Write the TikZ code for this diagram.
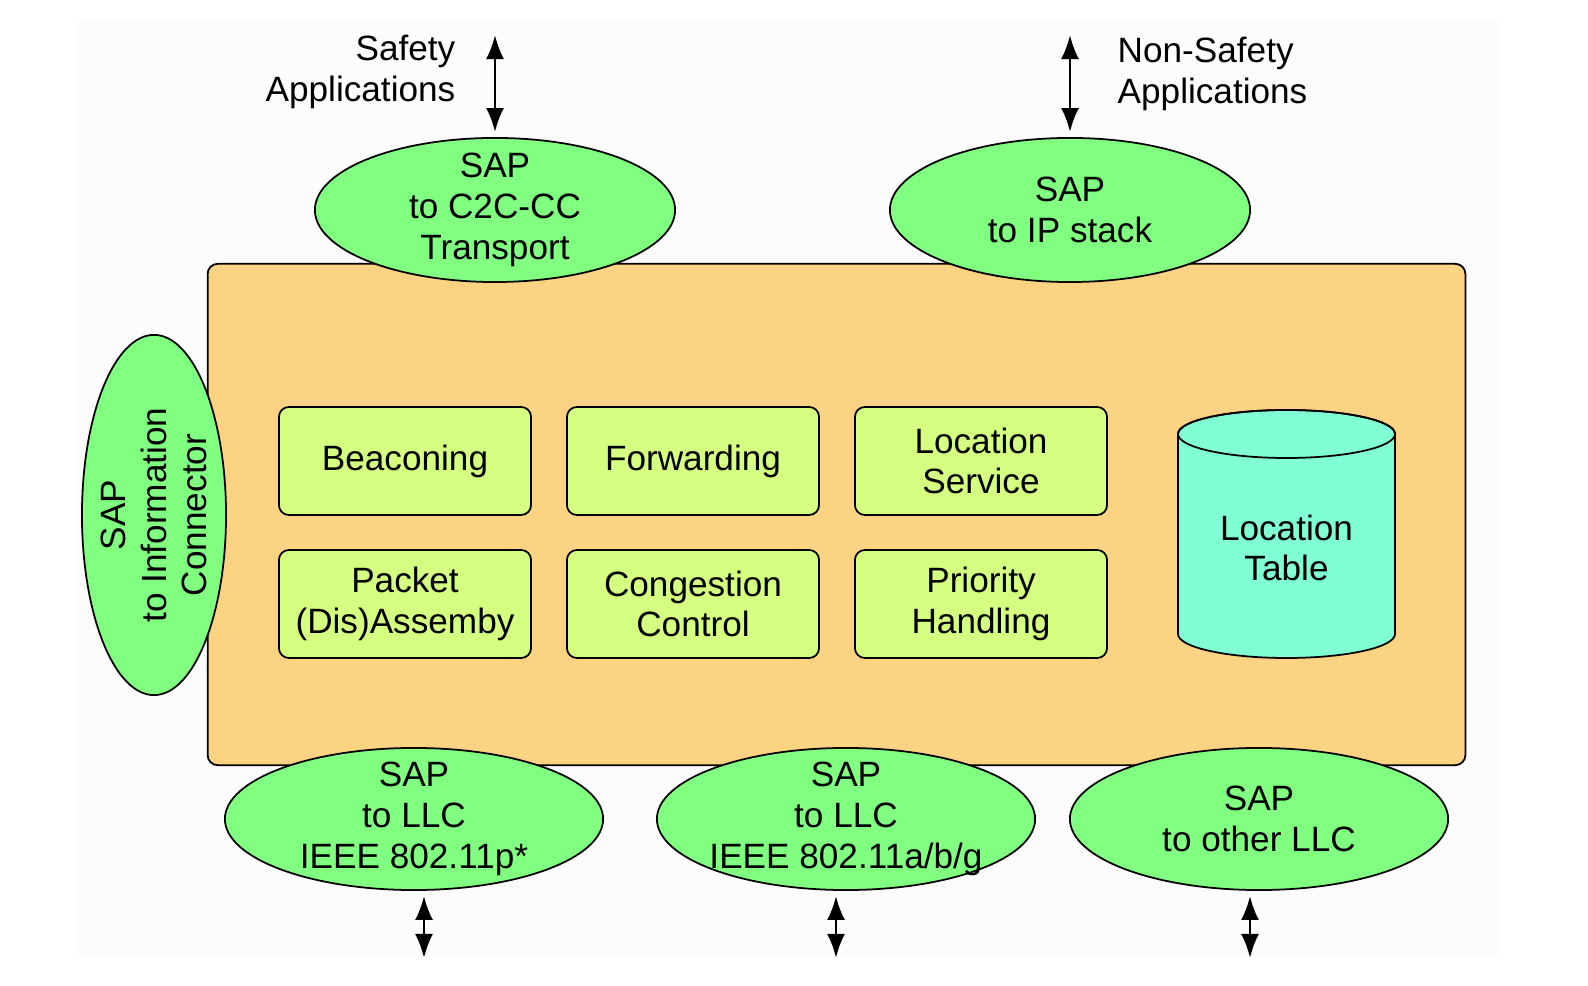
\documentclass[tikz,border=0pt]{standalone}
\usepackage{fontspec}
\setmainfont{Liberation Sans}
\usetikzlibrary{shapes.geometric,arrows.meta,calc}
\definecolor{layerfill}{RGB}{252,210,131}
\definecolor{blockfill}{RGB}{213,255,128}
\definecolor{sapfill}{RGB}{128,255,128}
\definecolor{tablefill}{RGB}{128,255,212}
\tikzset{
  sap/.style={draw, ellipse, fill=sapfill, line width=0.5pt, inner sep=0pt},
  saptext/.style={align=center, inner sep=0pt},
  block/.style={draw, rectangle, rounded corners=0.1cm, fill=blockfill, line width=0.5pt, minimum width=2.52cm, minimum height=1.08cm, align=center},
  biarrow/.style={{Latex[length=2.4mm,width=1.8mm]}-{Latex[length=2.4mm,width=1.8mm]}, line width=0.8pt}
}
\begin{document}
\begin{tikzpicture}[x=0.01cm, y=-0.01cm, font=\fontsize{10}{11.6}\selectfont]
  \useasboundingbox (0,0) rectangle (1588,986);
  \fill[black!1] (77,22) rectangle (1500,955);
  %layer
  \node[draw, rounded corners=0.1cm, fill=layerfill, line width=0.5pt, minimum width=12.57cm, minimum height=5.01cm](net) at (836.5,514.5){};
  % blocks
  \node[block](beacon) at (405,461){Beaconing};
  \node[block](fwd) at (693,461){Forwarding};
  \node[block](locserv) at (981,461){Location\\Service};
  \node[block](packet) at (405,604){Packet\\(Dis)Assemby};
  \node[block](cong) at (693,604){Congestion\\Control};
  \node[block](prio) at (981,604){Priority\\Handling};
  % location table
  \path[draw, fill=tablefill, line width=0.5pt] (1178,434) -- (1178,634) arc (180:0:108.5 and 24) -- (1395,434) arc (0:-180:108.5 and 24) -- cycle;
  \draw[line width=0.5pt] (1286.5,434) ellipse [x radius=108.5, y radius=24];
  \node[saptext](loctab) at (1286.5,548){Location\\Table};
  % SAPs
  \node[sap, minimum width=3.6cm, minimum height=1.44cm](c2c) at (495,210){};
  \node[saptext] at (c2c.center){SAP\\to C2C-CC\\Transport};
  \node[sap, minimum width=3.6cm, minimum height=1.44cm](ip) at (1070,210){};
  \node[saptext] at (ip.center){SAP\\to IP stack};
  \node[sap, minimum width=1.44cm, minimum height=3.6cm](info) at (154,515){};
  \node[saptext, rotate=90] at (info.center){SAP\\to Information\\Connector};
  \node[sap, minimum width=3.78cm, minimum height=1.42cm](llcp) at (414,819){};
  \node[saptext] at (llcp.center){SAP\\to LLC\\IEEE 802.11p*};
  \node[sap, minimum width=3.78cm, minimum height=1.42cm](llcabg) at (846,819){};
  \node[saptext] at (llcabg.center){SAP\\to LLC\\IEEE 802.11a/b/g};
  \node[sap, minimum width=3.78cm, minimum height=1.42cm](llcother) at (1259,819){};
  \node[saptext] at (llcother.center){SAP\\to other LLC};
  % applications
  \node[saptext, anchor=east, align=right](safe) at (456,72){Safety\\Applications};
  \node[saptext, anchor=west, align=left](nonsafe) at (1117,74){Non-Safety\\Applications};
  % Edges
  \coordinate (safetop) at (495,35);
  \coordinate (nonsafetop) at (1070,35);
  \coordinate (pbot) at (424,958);
  \coordinate (abgbot) at (836,958);
  \coordinate (otherbot) at (1250,958);
  \draw[biarrow, shorten >=0.05cm] (safetop) -- (c2c.north);
  \draw[biarrow, shorten >=0.05cm] (nonsafetop) -- (ip.north);
  \draw[biarrow, shorten <=0.05cm] (llcp.south -| pbot) -- (pbot);
  \draw[biarrow, shorten <=0.05cm] (llcabg.south -| abgbot) -- (abgbot);
  \draw[biarrow, shorten <=0.05cm] (llcother.south -| otherbot) -- (otherbot);
\end{tikzpicture}
\end{document}
